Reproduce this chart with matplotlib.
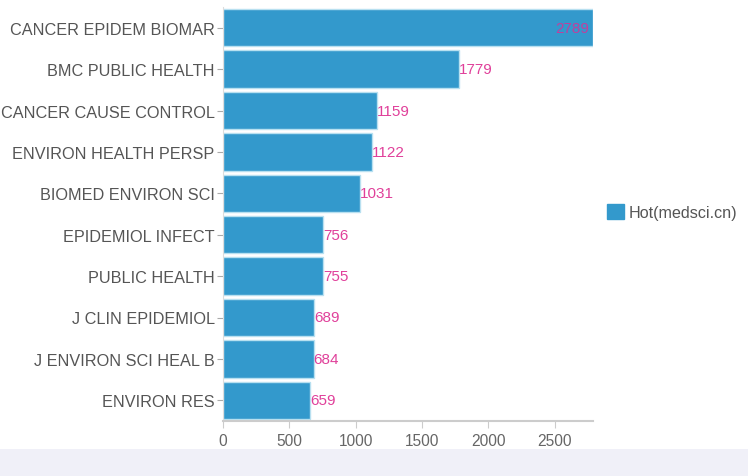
import matplotlib.pyplot as plt
from matplotlib.patches import Rectangle, Patch

plt.rcParams['font.family'] = ['Liberation Sans', 'DejaVu Sans']

journals = ["CANCER EPIDEM BIOMAR", "BMC PUBLIC HEALTH", "CANCER CAUSE CONTROL",
            "ENVIRON HEALTH PERSP", "BIOMED ENVIRON SCI", "EPIDEMIOL INFECT",
            "PUBLIC HEALTH", "J CLIN EPIDEMIOL", "J ENVIRON SCI HEAL B", "ENVIRON RES"]
hot = [2789, 1779, 1159, 1122, 1031, 756, 755, 689, 684, 659]

fig = plt.figure(figsize=(7.48, 4.77), dpi=100)
# light band at the bottom
fig.patches.append(Rectangle((0, 0), 1, 27 / 477, transform=fig.transFigure,
                             facecolor='#f0f0f8', edgecolor='none', zorder=0))

ax = fig.add_axes([223 / 748, 55 / 477, 370 / 748, 414 / 477])
ypos = list(range(len(journals)))
ax.barh(ypos, hot, height=0.9, color='#3399cc', edgecolor='#b8e0f0', linewidth=1)
ax.set_ylim(len(journals) - 0.5, -0.5)
ax.set_xlim(0, max(hot))
ax.set_yticks(ypos)
ax.set_yticklabels(journals, fontsize=11.7, color='#555555')
ax.set_xticks([0, 500, 1000, 1500, 2000, 2500])
ax.tick_params(axis='x', labelsize=11.2, labelcolor='#666666', color='#cccccc', length=5)
ax.tick_params(axis='y', color='#aaaaaa', length=4, pad=2)

for s in ['top', 'right']:
    ax.spines[s].set_visible(False)
ax.spines['bottom'].set_color('#cccccc')
ax.spines['bottom'].set_linewidth(1.5)
ax.spines['left'].set_color('#dddddd')

for i, v in enumerate(hot):
    if v == max(hot):
        ax.text(v - 30, i, str(v), va='center', ha='right', fontsize=11, color='#c0409e')
    else:
        ax.text(v, i, str(v), va='center', ha='left', fontsize=11, color='#e0409a')

fig.legend(handles=[Patch(facecolor='#3399cc', edgecolor='#3399cc')], labels=['Hot(medsci.cn)'],
           loc='center left', bbox_to_anchor=(607 / 748, 1 - 213 / 477), frameon=False,
           fontsize=11.6, labelcolor='#555555', handlelength=1.05, handleheight=1.05,
           handletextpad=0.3, borderpad=0, borderaxespad=0)

fig.savefig('out.png', dpi=100)
